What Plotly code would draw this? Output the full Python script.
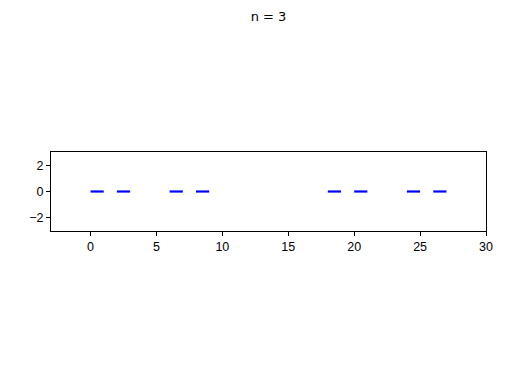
import plotly.graph_objects as go

n = 3
seg_start = [0, 2, 6, 8, 18, 20, 24, 26]
seg_end = [1, 3, 7, 9, 19, 21, 25, 27]
x_ticks = [0, 5, 10, 15, 20, 25, 30]
y_ticks = [-2, 0, 2]

xs, ys = [], []
for a, b in zip(seg_start, seg_end):
    xs += [a, b, None]
    ys += [0, 0, None]

fig = go.Figure()
fig.add_trace(go.Scatter(x=xs, y=ys, mode="lines",
                         line=dict(color="#0000ff", width=2.2),
                         showlegend=False, hoverinfo="skip"))

axis_common = dict(showline=True, linecolor="black", linewidth=1, mirror=True,
                   ticks="outside", ticklen=4, tickcolor="black", tickwidth=1,
                   showgrid=False, zeroline=False,
                   tickfont=dict(family="Liberation Sans, Arial", size=12.5, color="black"))

fig.update_xaxes(range=[-3, 30], tickvals=x_ticks, **axis_common)
fig.update_yaxes(range=[-3, 3], tickvals=y_ticks, **axis_common)

fig.update_layout(
    width=512, height=384,
    margin=dict(l=51, r=26, t=152, b=153),
    paper_bgcolor="white", plot_bgcolor="white",
    title=dict(text=f"n = {n}", x=0.5, xanchor="center", xref="paper",
               y=1 - 16 / 384, yanchor="middle", yref="container",
               font=dict(family="DejaVu Sans", size=13, color="black")),
)

fig.write_html("out.html")
